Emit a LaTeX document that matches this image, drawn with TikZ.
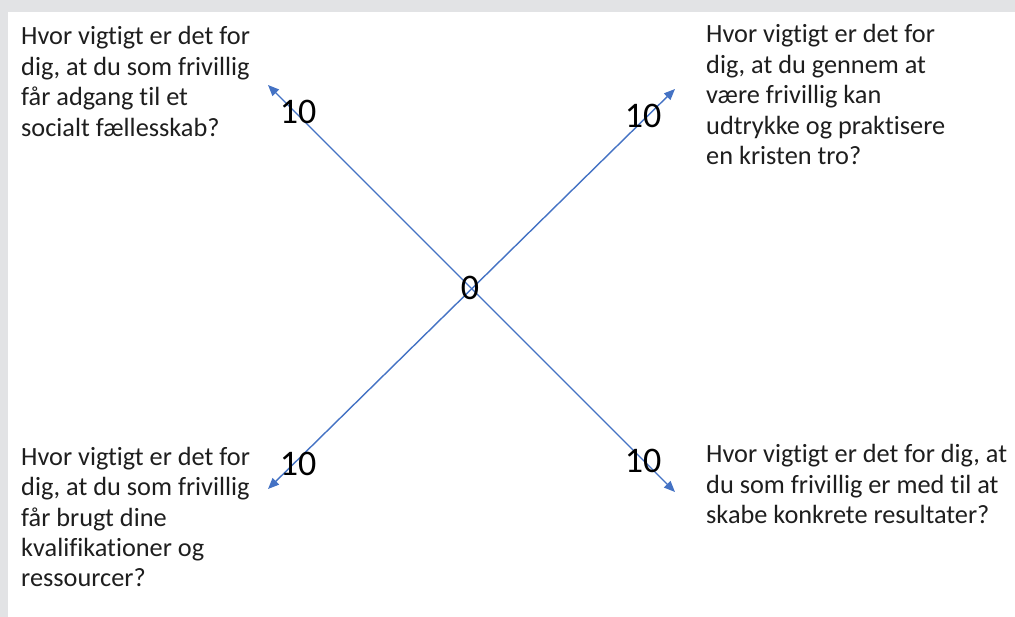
\documentclass[tikz,border=0pt]{standalone}
\usepackage{fontspec}
\setmainfont{Carlito}[Ligatures={NoCommon}]
\usetikzlibrary{arrows.meta}
\definecolor{bordergray}{HTML}{E2E3E5}
\definecolor{axisblue}{HTML}{4472C4}
\definecolor{txt}{HTML}{1E1E1E}
\newcommand{\qblock}[1]{\fontsize{26.3}{30.5}\selectfont\begin{tabular}[t]{@{}l@{}}#1\end{tabular}}
\tikzset{
  question/.style={anchor=base west, inner sep=0pt, text=txt, font=\fontsize{26.3}{30.5}\selectfont},
  scalelabel/.style={inner sep=0pt, text=black, font=\fontsize{36}{40}\selectfont},
  axis/.style={draw=axisblue, line width=1.4pt, {Triangle[length=11pt,width=9pt]}-{Triangle[length=11pt,width=9pt]}}
}
\begin{document}
\begin{tikzpicture}[x=1pt,y=-1pt]
\useasboundingbox (0,0) rectangle (1015,617);
\fill[bordergray] (0,0) rectangle (1015,617);
\fill[white] (8,12) rectangle (1015,617);
% axis end points
\coordinate (tl) at (268,85);
\coordinate (tr) at (675,89);
\coordinate (bl) at (268,489);
\coordinate (br) at (675,492);
\draw[axis] (tl) -- (br);
\draw[axis] (bl) -- (tr);
% scale labels
\node[scalelabel] (zero) at (470,288) {0};
\node[scalelabel] (ltl) at (298,112) {10};
\node[scalelabel] (ltr) at (643,116) {10};
\node[scalelabel] (lbl) at (298,464) {10};
\node[scalelabel] (lbr) at (643,461) {10};
% questions
\node[question] (qtl) at (21,45) {\qblock{Hvor vigtigt er det for\\dig, at du som frivillig\\får adgang til et\\socialt fællesskab?}};
\node[question] (qtr) at (706,43) {\qblock{Hvor vigtigt er det for\\dig, at du gennem at\\være frivillig kan\\udtrykke og praktisere\\en kristen tro?}};
\node[question] (qbl) at (21,465) {\qblock{Hvor vigtigt er det for\\dig, at du som frivillig\\får brugt dine\\kvalifikationer og\\ressourcer?}};
\node[question] (qbr) at (706,463) {\qblock{Hvor vigtigt er det for dig, at\\du som frivillig er med til at\\skabe konkrete resultater?}};
\end{tikzpicture}
\end{document}
